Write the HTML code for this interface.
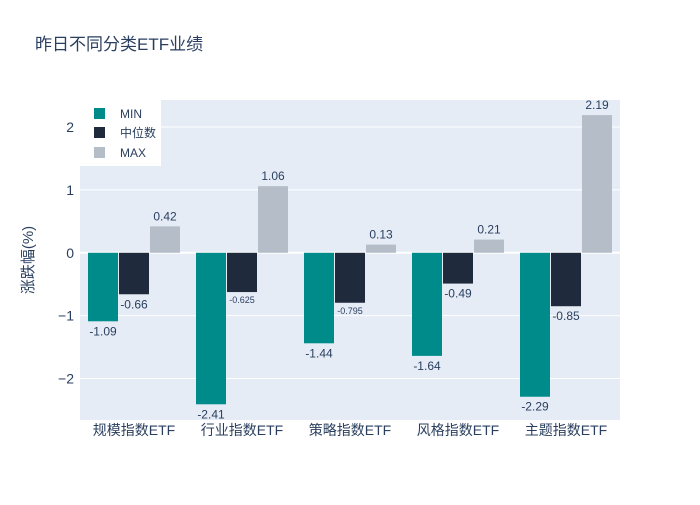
<!DOCTYPE html>
<html><head><meta charset="utf-8"><style>
body{margin:0;background:#fff;font-family:"Liberation Sans","Noto Sans CJK SC",sans-serif;}
text{font-family:"Liberation Sans","Noto Sans CJK SC",sans-serif;}
</style></head><body>
<svg id="chart" width="700" height="500">
<rect x="0" y="0" width="700" height="500" fill="#fff"/>
<text x="35" y="50" font-size="17" fill="#2a3f5f">昨日不同分类ETF业绩</text>
<rect x="80" y="100" width="540" height="320" fill="#e5ecf6"/>
<g id="grid"></g><g id="bars"></g><g id="labels"></g>
<text transform="translate(33,260) rotate(-90)" text-anchor="middle" font-size="15" fill="#2a3f5f">涨跌幅(%)</text>
<g>
<rect x="80" y="100" width="81" height="66" fill="#fff"/>
<rect x="94" y="108" width="11" height="11" fill="#008b8b"/><text x="120" y="118" font-size="12" fill="#2a3f5f">MIN</text>
<rect x="94" y="127" width="11" height="11" fill="#1f2a3c"/><text x="120" y="137" font-size="12" fill="#2a3f5f">中位数</text>
<rect x="94" y="147" width="11" height="11" fill="#b5bec8"/><text x="120" y="157" font-size="12" fill="#2a3f5f">MAX</text>
</g>
</svg>
<script>
const categories=["规模指数ETF","行业指数ETF","策略指数ETF","风格指数ETF","主题指数ETF"];
const minVals=[-1.09,-2.41,-1.44,-1.64,-2.29];
const medVals=[-0.66,-0.625,-0.795,-0.49,-0.85];
const maxVals=[0.42,1.06,0.13,0.21,2.19];
const yTicks=[-2,-1,0,1,2];
const tickLabels=["−2","−1","0","1","2"];
const NS="http://www.w3.org/2000/svg";
const x0=80,w=540,yTop=100,yBot=420,yMin=-2.66,yMax=2.43;
const y=v=>yTop+(yMax-v)/(yMax-yMin)*(yBot-yTop);
const band=w/categories.length;
function mk(tag,attrs,parent){const e=document.createElementNS(NS,tag);for(const k in attrs)e.setAttribute(k,attrs[k]);document.getElementById(parent).appendChild(e);return e;}
yTicks.forEach((t,i)=>{
  const g=mk('line',{x1:x0,x2:x0+w,y1:y(t),y2:y(t),stroke:'#fff','stroke-width':t===0?2:1},'grid');
  
  
  const l=mk('text',{x:x0-6,y:y(t)+5,'text-anchor':'end','font-size':14,fill:'#2a3f5f'},'grid');
  l.textContent=tickLabels[i];
  
  
});
const series=[[minVals,'#008b8b','min'],[medVals,'#1f2a3c','median'],[maxVals,'#b5bec8','max']];
const bw=30,gap=1,groupW=3*bw+2*gap;
categories.forEach((c,i)=>{
  const cx=x0+band*(i+0.5);
  const t=mk('text',{x:cx,y:yBot+15,'text-anchor':'middle','font-size':14,fill:'#2a3f5f'},'labels');
  t.textContent=c;
  
  
  series.forEach((s,j)=>{
    const v=s[0][i];const bx=cx-groupW/2+j*(bw+gap);
    const top=Math.min(y(v),y(0)),h=Math.abs(y(v)-y(0));
    const r=mk('rect',{x:bx,y:top,width:bw,height:h,fill:s[1]},'bars');
    
    
    const small=String(Math.abs(v)).length>4;
    const lab=mk('text',{x:bx+bw/2,y:v>=0?y(v)-6:y(v)+(small?11:14),'text-anchor':'middle','font-size':small?9:12,fill:'#2a3f5f'},'labels');
    lab.textContent=String(v);
    
    
  });
});
</script>
</body></html>
